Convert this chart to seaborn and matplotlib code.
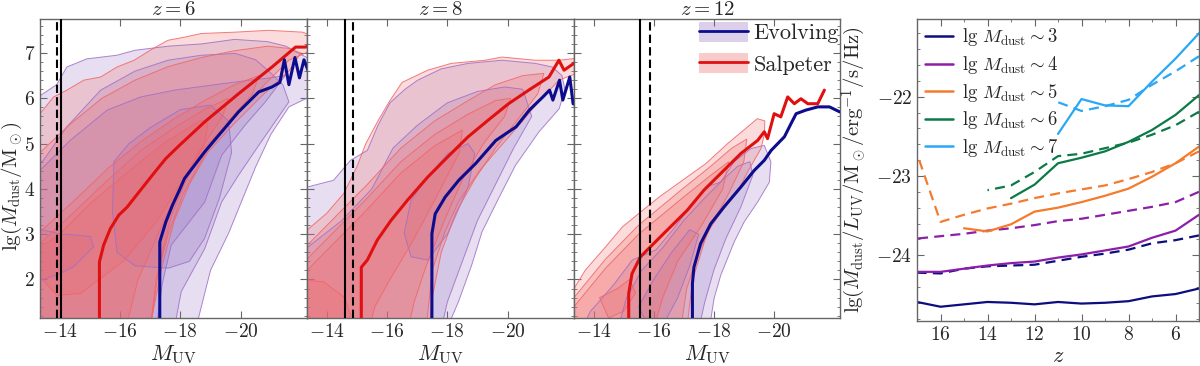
import numpy as np
import pandas as pd
import matplotlib
matplotlib.use("Agg")
import matplotlib.pyplot as plt
import seaborn as sns
from matplotlib.patches import Patch
from matplotlib.lines import Line2D
from matplotlib.ticker import MultipleLocator

# ---------------- data ----------------
# median relations  (M_UV, lg M_dust)
RED6_M = [-15.32, -15.32, -15.46, -15.68, -15.96, -16.24, -16.63, -17.07, -17.52, -17.97, -18.81, -19.93, -21.04, -21.82, -22.16, -22.27]
RED6_V = [1.0, 2.39, 2.76, 3.12, 3.42, 3.60, 3.93, 4.30, 4.67, 4.96, 5.48, 6.10, 6.69, 7.13, 7.13, 7.18]
BLUE6_M = [-17.32, -17.32, -17.52, -17.74, -17.97, -18.14, -18.81, -19.37, -19.93, -20.60, -21.04, -21.3, -21.45, -21.6, -21.8, -21.95, -22.1, -22.3]
BLUE6_V = [1.0, 2.83, 3.27, 3.64, 3.97, 4.23, 4.82, 5.26, 5.70, 6.14, 6.25, 6.35, 6.85, 6.3, 6.9, 6.45, 6.85, 6.5]

RED8_M = [-15.15, -15.15, -15.35, -15.68, -16.13, -16.68, -17.35, -18.02, -18.69, -19.36, -20.03, -20.70, -21.37, -21.70, -21.87, -22.26]
RED8_V = [1.0, 2.27, 2.43, 2.87, 3.30, 3.75, 4.26, 4.71, 5.15, 5.52, 5.88, 6.18, 6.47, 6.84, 6.62, 6.80]
BLUE8_M = [-17.49, -17.49, -17.60, -17.93, -18.38, -18.94, -19.61, -20.28, -20.72, -21.17, -21.39, -21.50, -21.72, -21.83, -22.06, -22.17, -22.28]
BLUE8_V = [1.0, 3.01, 3.45, 3.82, 4.19, 4.56, 5.07, 5.37, 5.74, 6.03, 6.18, 5.96, 6.40, 5.96, 6.47, 5.88, 5.85]

RED12_M = [-15.17, -15.17, -15.28, -15.56, -15.89, -16.45, -17.12, -17.67, -18.23, -18.90, -19.46, -19.68, -19.79, -20.01, -20.23, -20.46, -20.68, -20.90, -21.13, -21.46, -21.68]
RED12_V = [1.0, 1.69, 2.13, 2.5, 2.72, 3.09, 3.53, 3.97, 4.34, 4.78, 5.07, 5.26, 5.11, 5.66, 5.59, 6.03, 5.88, 5.99, 5.88, 5.88, 6.18]
BLUE12_M = [-17.29, -17.29, -17.34, -17.56, -17.90, -18.34, -18.90, -19.35, -19.68, -19.91, -20.13, -20.35, -20.57, -20.74, -21.07, -21.46, -21.85, -22.19]
BLUE12_V = [1.0, 1.91, 2.27, 2.79, 3.23, 3.60, 4.04, 4.41, 4.63, 4.85, 5.0, 5.15, 5.44, 5.66, 5.74, 5.81, 5.81, 5.70]

# magnitude limits (solid / dashed vertical lines)
LIM_SOLID = [-14.03, -14.60, -15.55]
LIM_DASH = [-13.90, -14.87, -15.87]

# density contour levels (closed outlines, M_UV / lg M_dust)
EVO6_1_M = [-13.0, -13.0, -13.9, -14.24, -14.9, -15.9, -16.5, -17.6, -18.7, -19.8, -20.9, -21.5, -21.9, -22.5, -22.5, -21.6, -21.0, -20.5, -19.6, -19.0, -18.6, -18.5]
EVO6_1_V = [0.9, 5.9, 6.3, 6.69, 6.87, 6.95, 7.06, 7.15, 7.2, 7.3, 7.25, 7.15, 7.0, 6.8, 6.1, 5.81, 5.2, 4.49, 3.02, 2.2, 1.14, 0.9]
EVO6_2_M = [-13.0, -13.0, -13.46, -14.24, -15.36, -16.5, -17.59, -18.7, -19.82, -20.5, -20.93, -21.4, -21.6, -20.6, -19.93, -19.37, -18.81, -18.03, -17.8]
EVO6_2_V = [0.9, 4.4, 4.63, 5.37, 6.18, 6.6, 6.84, 6.95, 6.99, 6.85, 6.6, 6.3, 5.92, 4.96, 4.30, 3.71, 2.68, 1.73, 0.9]
EVO6_3_M = [-13.0, -13.0, -13.35, -14.35, -15.58, -16.69, -17.81, -19.37, -20.3, -21.0, -21.49, -20.82, -20.15, -19.37, -18.81, -17.7, -17.4, -17.2]
EVO6_3_V = [0.9, 4.2, 4.41, 5.07, 5.74, 6.03, 6.18, 6.32, 6.4, 6.45, 6.51, 5.92, 5.41, 4.74, 3.71, 2.76, 1.9, 0.9]
EVO6_4_M = [-15.8, -15.75, -15.9, -16.5, -17.6, -18.3, -18.8, -19.3, -19.7, -19.6, -19.0, -18.0, -17.0, -16.3]
EVO6_4_V = [4.6, 3.5, 2.6, 2.3, 2.25, 2.4, 2.9, 3.8, 4.8, 5.5, 5.85, 5.75, 5.35, 5.0]
EVO6_5_M = [-13.0, -13.4, -14.0, -15.02, -15.13, -14.46, -13.91, -13.35, -13.0]
EVO6_5_V = [3.1, 3.1, 3.01, 2.95, 2.72, 2.28, 2.1, 1.98, 2.0]

SAL6_1_M = [-13.0, -13.0, -13.35, -13.8, -14.24, -14.8, -15.36, -15.9, -16.47, -17.0, -17.59, -18.15, -18.7, -19.82, -20.93, -22.05, -22.5, -22.5, -21.6, -20.82, -19.82, -18.7, -18.15, -17.7, -17.3, -17.0]
SAL6_1_V = [0.9, 5.5, 5.66, 6.03, 6.18, 6.40, 6.47, 6.69, 6.84, 7.06, 7.28, 7.35, 7.43, 7.46, 7.5, 7.46, 7.35, 7.1, 6.84, 6.32, 5.59, 4.85, 4.12, 3.4, 2.3, 0.9]
SAL6_2_M = [-13.0, -13.0, -13.35, -14.3, -15.4, -16.5, -17.6, -18.7, -19.8, -20.9, -21.6, -22.0, -21.6, -20.7, -19.8, -18.9, -18.3, -17.8, -17.4, -17.1, -17.0]
SAL6_2_V = [0.9, 4.6, 4.8, 5.4, 6.0, 6.4, 6.7, 6.9, 7.05, 7.15, 7.1, 7.0, 6.6, 6.05, 5.45, 4.8, 4.1, 3.3, 2.3, 1.3, 0.9]
SAL6_3_M = [-13.0, -13.0, -13.35, -14.5, -15.6, -16.7, -17.8, -18.8, -19.8, -20.6, -20.4, -19.6, -18.8, -18.1, -17.6, -17.2, -17.0]
SAL6_3_V = [0.9, 2.9, 3.05, 3.75, 4.45, 5.05, 5.55, 5.95, 6.3, 6.5, 6.1, 5.5, 4.75, 3.9, 3.0, 2.0, 0.9]
SAL6_4_M = [-13.0, -13.0, -13.35, -14.5, -15.6, -16.7, -17.8, -18.8, -19.6, -19.4, -18.6, -17.8, -17.2, -16.6, -16.3, -16.2]
SAL6_4_V = [0.9, 2.6, 2.8, 3.5, 4.2, 4.85, 5.35, 5.75, 6.0, 5.6, 4.8, 3.8, 2.9, 2.0, 1.2, 0.9]
SAL6_5_M = [-13.0, -13.35, -13.91, -15.02, -16.47, -17.59, -18.7, -18.92, -18.81, -18.14, -17.25, -16.14, -14.69, -13.91, -13.35, -13.0]
SAL6_5_V = [2.6, 2.72, 2.94, 3.68, 4.49, 5.07, 5.52, 5.44, 5.0, 4.26, 3.31, 2.42, 1.69, 1.65, 2.06, 2.2]

EVO8_1_M = [-13.0, -13.0, -13.35, -14.23, -14.79, -15.35, -15.7, -16.1, -16.6, -17.02, -17.8, -18.69, -19.81, -20.92, -21.48, -21.8, -21.9, -21.71, -21.04, -20.26, -19.7, -19.15, -18.81, -18.37, -18.14, -18.1]
EVO8_1_V = [0.9, 3.9, 4.04, 4.19, 4.63, 4.85, 5.4, 5.9, 6.2, 6.4, 6.65, 6.77, 6.84, 6.77, 6.69, 6.5, 6.2, 5.77, 5.26, 4.52, 3.79, 3.05, 2.32, 1.51, 1.15, 0.9]
EVO8_2_M = [-13.0, -13.0, -13.35, -14.5, -15.5, -16.2, -17.0, -18.0, -19.0, -19.9, -20.5, -20.8, -20.2, -19.6, -19.0, -18.5, -18.0, -17.8]
EVO8_2_V = [0.9, 2.6, 2.7, 3.3, 4.0, 4.9, 5.4, 5.9, 6.15, 6.25, 6.2, 5.6, 4.9, 4.1, 3.3, 2.4, 1.5, 0.9]
EVO8_3_M = [-16.57, -16.8, -17.35, -18.02, -18.69, -18.91, -18.69, -18.02, -17.35, -16.8]
EVO8_3_V = [3.02, 2.5, 2.43, 3.02, 4.04, 4.78, 5.0, 4.78, 4.27, 3.75]

SAL8_1_M = [-13.0, -13.0, -13.35, -14.0, -14.57, -15.01, -15.3, -15.7, -16.1, -16.5, -17.35, -18.13, -19.25, -19.81, -20.92, -21.7, -22.26, -22.5, -22.5, -21.7, -21.0, -20.37, -19.7, -19.04, -18.37, -17.92, -17.5, -17.3]
SAL8_1_V = [0.9, 3.0, 3.09, 3.46, 3.9, 4.5, 5.0, 5.5, 5.95, 6.35, 6.62, 6.77, 6.84, 6.91, 6.84, 6.84, 6.88, 6.9, 6.6, 6.4, 5.9, 5.40, 4.89, 4.38, 3.71, 3.05, 2.2, 0.9]
SAL8_2_M = [-13.0, -13.0, -13.35, -15.35, -16.46, -17.58, -18.69, -19.6, -20.5, -21.2, -21.0, -20.3, -19.6, -18.9, -18.3, -17.8, -17.5, -17.4]
SAL8_2_V = [0.9, 2.6, 2.75, 4.1, 4.9, 5.5, 5.95, 6.3, 6.5, 6.55, 6.1, 5.5, 4.9, 4.2, 3.5, 2.6, 1.6, 0.9]
SAL8_3_M = [-13.0, -13.0, -13.35, -15.35, -16.46, -17.58, -18.69, -19.6, -20.1, -19.9, -19.2, -18.5, -17.9, -17.3, -16.9, -16.7]
SAL8_3_V = [0.9, 2.3, 2.45, 3.8, 4.6, 5.2, 5.65, 5.95, 6.0, 5.6, 5.0, 4.2, 3.3, 2.3, 1.5, 0.9]
SAL8_4_M = [-13.0, -13.0, -13.35, -15.35, -16.46, -17.58, -18.5, -18.4, -17.7, -16.9, -16.1, -15.6, -15.4]
SAL8_4_V = [0.9, 2.0, 2.2, 3.55, 4.35, 4.95, 5.3, 4.8, 3.9, 2.9, 2.0, 1.4, 0.9]
SAL8_5_M = [-13.0, -13.9, -14.6, -14.8, -14.5, -13.0]
SAL8_5_V = [2.0, 1.95, 1.6, 1.2, 0.9, 0.9]

EVO12_1_M = [-13.6, -13.9, -14.3, -14.7, -15.29, -16.07, -16.63, -17.3, -17.74, -18.23, -18.68, -19.24, -19.68, -19.9, -19.85, -19.46, -19.01, -18.68, -18.23, -18.01, -17.85]
EVO12_1_V = [0.9, 1.3, 1.6, 1.91, 2.43, 2.65, 3.09, 3.68, 4.04, 4.15, 4.6, 4.89, 4.96, 4.6, 4.15, 3.71, 3.27, 2.83, 2.09, 1.58, 0.9]
EVO12_2_M = [-14.8, -15.1, -15.6, -16.3, -17.0, -17.7, -18.3, -18.8, -19.2, -19.3, -18.9, -18.4, -18.0, -17.7, -17.5]
EVO12_2_V = [0.9, 1.6, 2.2, 2.7, 3.3, 3.8, 4.2, 4.5, 4.6, 4.3, 3.6, 2.9, 2.2, 1.5, 0.9]
EVO12_3_M = [-15.5, -16.0, -16.6, -17.2, -17.5, -17.2, -16.8, -16.4, -15.8]
EVO12_3_V = [1.4, 2.0, 2.6, 3.1, 3.0, 2.3, 1.6, 1.1, 1.0]

SAL12_1_M = [-13.0, -13.0, -13.35, -13.73, -14.4, -14.96, -15.51, -16.18, -16.96, -17.74, -18.46, -19.0, -19.45, -19.7, -19.68, -19.57, -19.13, -18.79, -18.34, -17.79, -17.3, -17.1]
SAL12_1_V = [0.9, 1.6, 1.8, 2.21, 2.72, 3.16, 3.46, 3.82, 4.19, 4.56, 5.0, 5.3, 5.55, 5.5, 5.19, 4.89, 4.38, 3.93, 3.57, 3.05, 2.0, 0.9]
SAL12_2_M = [-13.0, -13.0, -13.35, -14.4, -15.5, -16.96, -17.9, -18.6, -19.1, -19.0, -18.5, -18.0, -17.5, -17.1, -16.9]
SAL12_2_V = [0.9, 1.4, 1.6, 2.45, 3.2, 4.0, 4.5, 4.9, 5.1, 4.6, 3.9, 3.3, 2.6, 1.8, 0.9]
SAL12_3_M = [-13.0, -13.0, -13.35, -14.4, -15.5, -16.96, -17.9, -18.5, -18.3, -17.6, -16.8, -16.3, -16.0]
SAL12_3_V = [0.9, 1.2, 1.4, 2.25, 3.0, 3.8, 4.3, 4.6, 4.0, 3.2, 2.4, 1.6, 0.9]
SAL12_4_M = [-14.2, -14.8, -15.2, -15.4, -15.0, -14.5]
SAL12_4_V = [1.6, 1.8, 2.0, 1.7, 1.3, 1.15]

# right panel: lg(M_dust/L_UV) against redshift, per dust-mass bin
Z_ALL = [17, 16, 15, 14, 13, 12, 11, 10, 9, 8, 7, 6, 5]
M3_EVO = [-24.59, -24.65, -24.62, -24.59, -24.60, -24.62, -24.59, -24.61, -24.60, -24.58, -24.52, -24.49, -24.42]
M3_SAL = [-24.22, -24.23, -24.17, -24.14, -24.13, -24.12, -24.07, -24.02, -23.98, -23.93, -23.85, -23.81, -23.75]
M4_EVO = [-24.21, -24.21, -24.17, -24.13, -24.10, -24.08, -24.03, -23.99, -23.94, -23.89, -23.78, -23.69, -23.49]
M4_SAL = [-23.79, -23.76, -23.73, -23.69, -23.66, -23.62, -23.57, -23.54, -23.49, -23.44, -23.39, -23.33, -23.20]
Z_M5_EVO = [15, 14, 13, 12, 11, 10, 9, 8, 7, 6, 5]
M5_EVO = [-23.66, -23.70, -23.61, -23.45, -23.40, -23.33, -23.25, -23.16, -23.01, -22.84, -22.63]
M5_SAL = [-22.72, -23.58, -23.49, -23.41, -23.35, -23.28, -23.22, -23.17, -23.12, -23.04, -22.95, -22.84, -22.69]
Z_M6_EVO = [13, 12, 11, 10, 9, 8, 7, 6, 5]
M6_EVO = [-23.28, -23.11, -22.84, -22.77, -22.69, -22.57, -22.42, -22.23, -21.98]
Z_M6_SAL = [14, 13, 12, 11, 10, 9, 8, 7, 6, 5]
M6_SAL = [-23.18, -23.12, -22.95, -22.75, -22.72, -22.65, -22.58, -22.48, -22.36, -22.19]
Z_M7 = [11, 10, 9, 8, 7, 6, 5]
M7_EVO = [-22.47, -22.03, -22.11, -22.12, -21.81, -21.52, -21.20]
M7_SAL = [-22.07, -22.18, -22.12, -22.04, -21.85, -21.68, -21.49]

MASS_LABELS = ["3", "4", "5", "6", "7"]
MASS_COLORS = ["#0d0d80", "#8c1fa8", "#f57a2c", "#0b7a46", "#2aa8f5"]

# ---------------- styling ----------------
sns.set_style("ticks")
plt.rcParams["font.family"] = ["cmr10", "DejaVu Serif"]
plt.rcParams["mathtext.fontset"] = "cm"
plt.rcParams["axes.formatter.use_mathtext"] = True
plt.rcParams["axes.unicode_minus"] = True

EVO_FILL = "#8a62bb"
EVO_EDGE = "#9e70c6"
SAL_FILL = "#f06a6a"
SAL_EDGE = "#f26565"
BLUE = "#0c0c8c"
RED = "#e01010"
SPINE = "#666666"


def style_axis(ax):
    for s in ax.spines.values():
        s.set_color(SPINE)
        s.set_linewidth(1.0)
    ax.tick_params(which="both", direction="in", top=True, right=True, color=SPINE, labelsize=14)
    ax.tick_params(which="major", length=5)
    ax.tick_params(which="minor", length=2.5)


def draw_levels(ax, levels, fill, edge, alpha):
    for m, v in levels:
        ax.fill(m, v, facecolor=fill, alpha=alpha, edgecolor="none", zorder=1)
    for m, v in levels:
        ax.fill(m, v, facecolor="none", edgecolor=edge, lw=0.7, alpha=0.85, zorder=2)


fig = plt.figure(figsize=(12, 3.66), dpi=100)
ax1 = fig.add_axes([40 / 1200, 48 / 366, 267 / 1200, 299 / 366])
ax2 = fig.add_axes([307 / 1200, 48 / 366, 267 / 1200, 299 / 366])
ax3 = fig.add_axes([574 / 1200, 48 / 366, 266 / 1200, 299 / 366])
ax4 = fig.add_axes([917 / 1200, 45 / 366, 282 / 1200, 302 / 366])

panels = [
    (ax1, "$z=6$",
     [(EVO6_1_M, EVO6_1_V), (EVO6_2_M, EVO6_2_V), (EVO6_3_M, EVO6_3_V), (EVO6_4_M, EVO6_4_V), (EVO6_5_M, EVO6_5_V)],
     [(SAL6_1_M, SAL6_1_V), (SAL6_2_M, SAL6_2_V), (SAL6_3_M, SAL6_3_V), (SAL6_4_M, SAL6_4_V), (SAL6_5_M, SAL6_5_V)],
     (RED6_M, RED6_V), (BLUE6_M, BLUE6_V), 0),
    (ax2, "$z=8$",
     [(EVO8_1_M, EVO8_1_V), (EVO8_2_M, EVO8_2_V), (EVO8_3_M, EVO8_3_V)],
     [(SAL8_1_M, SAL8_1_V), (SAL8_2_M, SAL8_2_V), (SAL8_3_M, SAL8_3_V), (SAL8_4_M, SAL8_4_V), (SAL8_5_M, SAL8_5_V)],
     (RED8_M, RED8_V), (BLUE8_M, BLUE8_V), 1),
    (ax3, "$z=12$",
     [(EVO12_1_M, EVO12_1_V), (EVO12_2_M, EVO12_2_V), (EVO12_3_M, EVO12_3_V)],
     [(SAL12_1_M, SAL12_1_V), (SAL12_2_M, SAL12_2_V), (SAL12_3_M, SAL12_3_V), (SAL12_4_M, SAL12_4_V)],
     (RED12_M, RED12_V), (BLUE12_M, BLUE12_V), 2),
]

for ax, title, evo, sal, red, blue, i in panels:
    draw_levels(ax, evo, EVO_FILL, EVO_EDGE, 0.2)
    draw_levels(ax, sal, SAL_FILL, SAL_EDGE, 0.24)
    sns.lineplot(x=red[0], y=red[1], sort=False, estimator=None, color=RED, lw=2.2, ax=ax, zorder=4)
    sns.lineplot(x=blue[0], y=blue[1], sort=False, estimator=None, color=BLUE, lw=2.2, ax=ax, zorder=4)
    ax.axvline(LIM_SOLID[i], color="black", lw=1.5, zorder=5)
    ax.axvline(LIM_DASH[i], color="black", lw=1.5, ls=(0, (4, 2)), zorder=5)
    ax.set_xlim(-13.35, -22.2)
    ax.set_ylim(1.15, 7.75)
    ax.set_xticks([-14, -16, -18, -20])
    ax.yaxis.set_major_locator(MultipleLocator(1))
    ax.yaxis.set_minor_locator(MultipleLocator(0.2))
    style_axis(ax)
    ax.set_title(title, fontsize=15, pad=3)
    ax.set_xlabel(r"$M_{\rm UV}$", fontsize=16, labelpad=2)
    if i == 0:
        ax.set_ylabel(r"lg$(M_{\rm dust}/{\rm M}_\odot)$", fontsize=15)
        ax.yaxis.set_label_coords(-0.06, 0.44)
    else:
        ax.set_ylabel("")
        ax.tick_params(labelleft=False)

evo_handle = (Patch(facecolor=EVO_FILL, alpha=0.3, edgecolor="none"), Line2D([], [], color=BLUE, lw=2))
sal_handle = (Patch(facecolor=SAL_FILL, alpha=0.35, edgecolor="none"), Line2D([], [], color=RED, lw=2))
ax3.legend([evo_handle, sal_handle], ["Evolving", "Salpeter"], loc="upper right",
           bbox_to_anchor=(1.03, 1.02), frameon=False,
           fontsize=16, handlelength=2.2, handleheight=1.0, borderaxespad=0.0, handletextpad=0.25,
           labelspacing=0.45)

# ---------------- right panel ----------------
series = [
    ("3", "Evolving", Z_ALL, M3_EVO), ("3", "Salpeter", Z_ALL, M3_SAL),
    ("4", "Evolving", Z_ALL, M4_EVO), ("4", "Salpeter", Z_ALL, M4_SAL),
    ("5", "Evolving", Z_M5_EVO, M5_EVO), ("5", "Salpeter", Z_ALL, M5_SAL),
    ("6", "Evolving", Z_M6_EVO, M6_EVO), ("6", "Salpeter", Z_M6_SAL, M6_SAL),
    ("7", "Evolving", Z_M7, M7_EVO), ("7", "Salpeter", Z_M7, M7_SAL),
]
rows = []
for mass, imf, zs, vals in series:
    for zz, val in zip(zs, vals):
        rows.append({"z": zz, "ratio": val, "mass": mass, "imf": imf})
df = pd.DataFrame(rows)

sns.lineplot(data=df, x="z", y="ratio", hue="mass", style="imf", hue_order=MASS_LABELS,
             palette=dict(zip(MASS_LABELS, MASS_COLORS)),
             dashes={"Evolving": "", "Salpeter": (4.5, 2.8)}, estimator=None,
             lw=1.6, legend=False, ax=ax4)
ax4.set_xlim(17, 5)
ax4.set_ylim(-24.83, -21.02)
ax4.set_xticks([16, 14, 12, 10, 8, 6])
ax4.xaxis.set_minor_locator(MultipleLocator(1))
ax4.yaxis.set_major_locator(MultipleLocator(1))
ax4.yaxis.set_minor_locator(MultipleLocator(0.2))
style_axis(ax4)
ax4.set_xlabel("$z$", fontsize=16, labelpad=2)
ax4.set_ylabel(r"lg$(M_{\rm dust}/L_{\rm UV}/{\rm M}_\odot/{\rm erg}^{-1}/{\rm s}/{\rm Hz})$", fontsize=14.8)
ax4.yaxis.set_label_coords(-0.172, 0.5)
handles = [Line2D([], [], color=c, lw=1.8) for c in MASS_COLORS]
labels = [r"$\lg\,M_{\rm dust}\sim %s$" % m for m in MASS_LABELS]
ax4.legend(handles, labels, loc="upper left", frameon=False, fontsize=13.5, handlelength=1.5,
           borderaxespad=0.0, labelspacing=0.3, handletextpad=0.48)

fig.savefig("out.png", dpi=100)
